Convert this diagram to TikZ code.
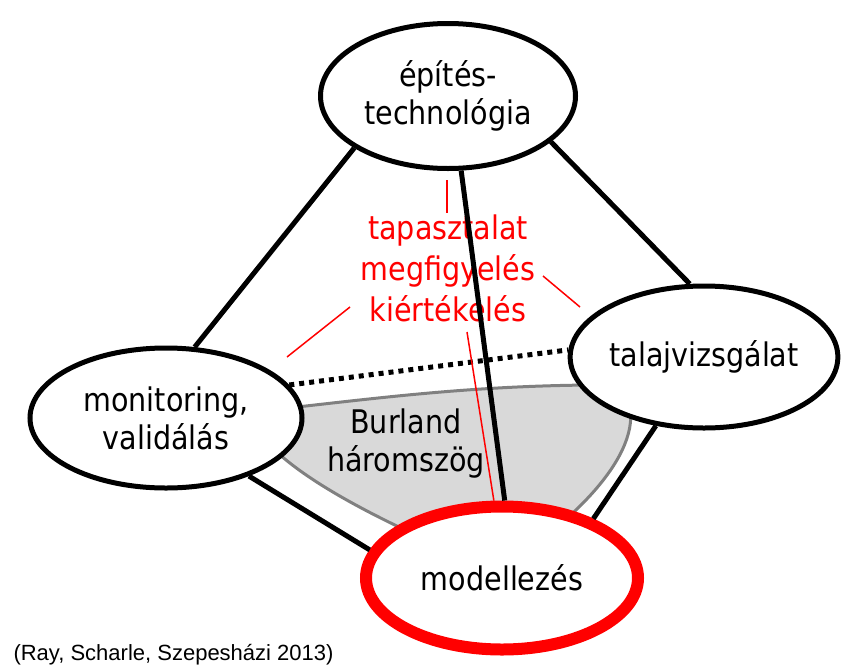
\documentclass[tikz,border=0pt]{standalone}
\usepackage{fontspec}
\setmainfont{DejaVu Sans}[FakeStretch=0.88]
\newfontfamily\citefont{Liberation Sans}
\usetikzlibrary{shapes.geometric, positioning, backgrounds}

\begin{document}
\begin{tikzpicture}[x=1pt, y=-1pt]
    \tikzstyle{corner}=[draw, ellipse, line width=5pt, fill=white, inner sep=0pt, align=center, font=\fontsize{32.5}{38}\selectfont]
    \tikzstyle{focus}=[corner, draw=red, line width=12pt]
    \tikzstyle{link}=[line width=5pt]
    \tikzstyle{note}=[red, line width=1.5pt]

    \useasboundingbox (0,0) rectangle (856,664);

    \node[corner, minimum width=255pt, minimum height=145pt] (tech) at (448,96) {építés-\\technológia};
    \node[corner, minimum width=272pt, minimum height=140pt] (monitor) at (166,418) {monitoring,\\validálás};
    \node[corner, minimum width=259pt, minimum height=142pt] (soil) at (704,357) {talajvizsgálat};
    \node[focus, minimum width=272pt, minimum height=143pt] (model) at (502,578) {modellezés};

    \node[align=center, red, font=\fontsize{32.5}{41}\selectfont] (exp) at (448,268) {tapasztalat\\megfigyelés\\kiértékelés};
    \node[align=center, font=\fontsize{32.5}{38}\selectfont] (burland) at (406,444) {Burland\\háromszög};
    \node[anchor=base west, font=\citefont\fontsize{22}{26}\selectfont] (source) at (10,660) {(Ray, Scharle, Szepesházi 2013)};

    % Burland haromszog
    \begin{pgfonlayer}{background}
        \draw[fill=gray!30, draw=gray, line width=3pt] (270,410) .. controls (380,398) and (480,384) .. (620,385)
            .. controls (655,430) and (600,500) .. (520,555) -- (460,555)
            .. controls (380,520) and (300,480) .. (265,440) -- cycle;
    \end{pgfonlayer}

    \draw[link] (tech.209) -- (monitor.68);
    \draw[link] (tech.336) -- (soil.101);
    \draw[link] (tech.280) -- (model.88);
    \draw[link] (monitor.325) -- (model.168);
    \draw[link] (soil.235) -- (model.33);
    \draw[link, dash pattern=on 5pt off 5pt] (monitor.15) -- (soil.177);

    \coordinate (n1a) at (447,180);
    \coordinate (n1b) at (447,213);
    \coordinate (n2a) at (543,276);
    \coordinate (n2b) at (580,307);
    \coordinate (n3a) at (350,307);
    \coordinate (n3b) at (287,357);
    \coordinate (n4a) at (467,332);

    \draw[note] (n1a) -- (n1b);
    \draw[note] (n2a) -- (n2b);
    \draw[note] (n3a) -- (n3b);
    \draw[note] (n4a) -- (model.96);
\end{tikzpicture}
\end{document}
